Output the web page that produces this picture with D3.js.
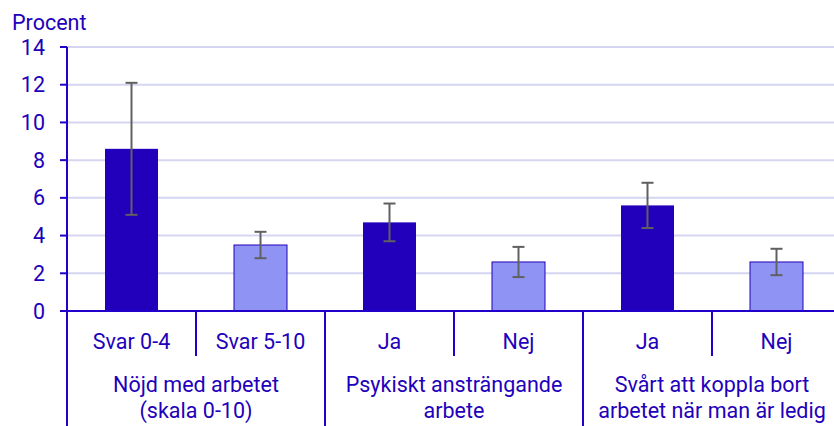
<!DOCTYPE html>
<html>
<head>
<meta charset="utf-8">
<script src="https://cdn.jsdelivr.net/npm/d3@7"></script>
<style>
  body { margin: 0; background: #fff; }
  text { font-family: Roboto, "Noto Sans", sans-serif; fill: #2200bb; }
</style>
</head>
<body>
<script>
// data
var categories = ["Svar 0-4", "Svar 5-10", "Ja", "Nej", "Ja", "Nej"];
var values = [8.6, 3.5, 4.7, 2.6, 5.6, 2.6];
var lower = [5.1, 2.8, 3.7, 1.8, 4.4, 1.9];
var upper = [12.1, 4.2, 5.7, 3.4, 6.8, 3.3];
var groups = [["Nöjd med arbetet", "(skala 0-10)"], ["Psykiskt ansträngande", "arbete"], ["Svårt att koppla bort", "arbetet när man är ledig"]];
var yTicks = [0, 2, 4, 6, 8, 10, 12, 14];

var width = 834, height = 426;
var plotLeft = 67, plotTop = 47, plotBottom = 311;
var band = 129;
var fs = 21.5;

var dark = "#2200bb", light = "#8f94f4", blue = "#2200cc";

var svg = d3.select("body").append("svg")
    .attr("width", width)
    .attr("height", height);

var x = d3.scaleBand()
    .domain(d3.range(categories.length))
    .range([plotLeft, plotLeft + band * categories.length])
    .paddingInner(0)
    .paddingOuter(0);

var y = d3.scaleLinear().domain([0, 14]).range([plotBottom, plotTop]);

// gridlines
svg.selectAll(".grid")
    .data(yTicks.filter(d => d > 0))
    .enter().append("line")
    .attr("x1", plotLeft).attr("x2", width)
    .attr("y1", d => y(d)).attr("y2", d => y(d))
    .attr("stroke", "#d5d5f2").attr("stroke-width", 2);

// bars
var barW = 53;
svg.selectAll(".bar")
    .data(values)
    .enter().append("rect")
    .attr("x", (d, i) => x(i) + x.bandwidth() / 2 - barW / 2)
    .attr("y", d => y(d))
    .attr("width", barW)
    .attr("height", d => y(0) - y(d))
    .attr("fill", (d, i) => i % 2 == 0 ? dark : light)
    .attr("stroke", (d, i) => i % 2 == 0 ? "none" : dark)
    .attr("stroke-width", 1);

// error bars
var err = svg.selectAll(".err")
    .data(values)
    .enter().append("g")
    .attr("stroke", "#606060").attr("stroke-width", 2);
err.append("line")
    .attr("x1", (d, i) => x(i) + x.bandwidth() / 2)
    .attr("x2", (d, i) => x(i) + x.bandwidth() / 2)
    .attr("y1", (d, i) => y(lower[i]))
    .attr("y2", (d, i) => y(upper[i]));
err.selectAll(".cap")
    .data((d, i) => [[i, lower[i]], [i, upper[i]]])
    .enter().append("line")
    .attr("x1", d => x(d[0]) + x.bandwidth() / 2 - 6)
    .attr("x2", d => x(d[0]) + x.bandwidth() / 2 + 6)
    .attr("y1", d => y(d[1]))
    .attr("y2", d => y(d[1]));

// y axis
svg.append("line")
    .attr("x1", plotLeft).attr("x2", plotLeft)
    .attr("y1", plotTop).attr("y2", height)
    .attr("stroke", blue).attr("stroke-width", 2);
svg.selectAll(".ytick")
    .data(yTicks)
    .enter().append("line")
    .attr("x1", plotLeft - 7).attr("x2", plotLeft)
    .attr("y1", d => y(d)).attr("y2", d => y(d))
    .attr("stroke", blue).attr("stroke-width", 2);
svg.selectAll(".ylab")
    .data(yTicks)
    .enter().append("text")
    .attr("x", 45)
    .attr("y", d => y(d) + 7.5)
    .attr("text-anchor", "end")
    .attr("font-size", fs)
    .text(d => d);

svg.append("text")
    .attr("x", 12).attr("y", 30)
    .attr("font-size", fs)
    .text("Procent");

// x axis baseline
svg.append("line")
    .attr("x1", plotLeft - 7).attr("x2", width)
    .attr("y1", plotBottom).attr("y2", plotBottom)
    .attr("stroke", blue).attr("stroke-width", 2);

// separators
svg.selectAll(".sep")
    .data(d3.range(1, categories.length))
    .enter().append("line")
    .attr("x1", d => x(d)).attr("x2", d => x(d))
    .attr("y1", plotBottom)
    .attr("y2", d => d % 2 == 0 ? height : plotBottom + 45)
    .attr("stroke", blue).attr("stroke-width", 2);

// category labels
svg.selectAll(".xlab")
    .data(categories)
    .enter().append("text")
    .attr("x", (d, i) => x(i) + x.bandwidth() / 2)
    .attr("y", 349)
    .attr("text-anchor", "middle")
    .attr("font-size", fs)
    .text(d => d);

// group labels
var g = svg.selectAll(".glab")
    .data(groups)
    .enter().append("text")
    .attr("text-anchor", "middle")
    .attr("font-size", fs);
g.selectAll("tspan")
    .data((d, i) => d.map(t => [t, i]))
    .enter().append("tspan")
    .attr("x", d => x(d[1] * 2) + x.bandwidth())
    .attr("y", (d, j) => 392 + j * 26)
    .text(d => d[0]);
</script>
</body>
</html>
